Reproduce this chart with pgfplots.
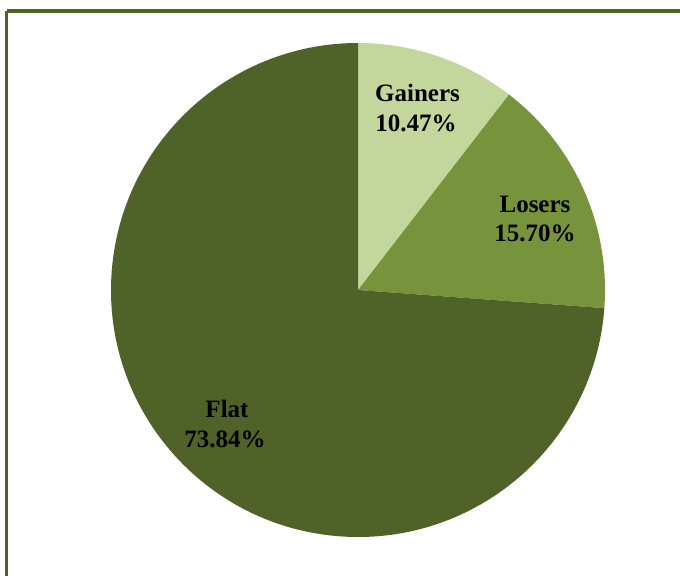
\documentclass[border=0pt]{standalone}
\usepackage{pgfplots}
\pgfplotsset{compat=1.18}
\usepackage{fontspec}
\setmainfont{Liberation Serif}
\definecolor{cGain}{HTML}{C3D69B}
\definecolor{cLose}{HTML}{77933C}
\definecolor{cFlat}{HTML}{4F6228}
\definecolor{cFrame}{HTML}{4F6228}
% data (percent)
\def\vGain{10.47}
\def\vLose{15.70}
\def\vFlat{73.84}
\pgfmathsetmacro{\aA}{90}
\pgfmathsetmacro{\aB}{\aA-3.6*\vGain}
\pgfmathsetmacro{\aC}{\aB-3.6*\vLose}
\pgfmathsetmacro{\aD}{\aC-3.6*\vFlat}
\begin{document}
\begin{tikzpicture}
\useasboundingbox (0,0) rectangle (510pt,431.25pt);
\draw[cFrame,line width=2.4pt] (4.875pt,423pt) -- (600pt,423pt) (4.875pt,423pt) -- (4.875pt,-50pt);
\begin{axis}[at={(268.5pt,213.75pt)}, anchor=origin, x=0.75pt, y=0.75pt,
  xmin=-250, xmax=250, ymin=-250, ymax=250, hide axis, clip=false]
\fill[cGain] (axis cs:0,0) -- (axis cs:{247*cos(\aA)},{247*sin(\aA)}) arc[start angle=\aA,end angle=\aB,radius=185.25pt] -- cycle;
\fill[cLose] (axis cs:0,0) -- (axis cs:{247*cos(\aB)},{247*sin(\aB)}) arc[start angle=\aB,end angle=\aC,radius=185.25pt] -- cycle;
\fill[cFlat] (axis cs:0,0) -- (axis cs:{247*cos(\aC)},{247*sin(\aC)}) arc[start angle=\aC,end angle=\aD,radius=185.25pt] -- cycle;
\begin{scope}[every node/.style={font=\fontsize{18.75}{22.5}\selectfont\bfseries, anchor=base, inner sep=0pt}]
\node at (axis cs:59.5,188) {Gainers};
\node at (axis cs:58,158) {\vGain\%};
\node at (axis cs:177,77) {Losers};
\node at (axis cs:177,48) {\vLose\%};
\node at (axis cs:-131,-127) {Flat};
\node at (axis cs:-133,-157) {\vFlat\%};
\end{scope}
\end{axis}
\end{tikzpicture}
\end{document}
